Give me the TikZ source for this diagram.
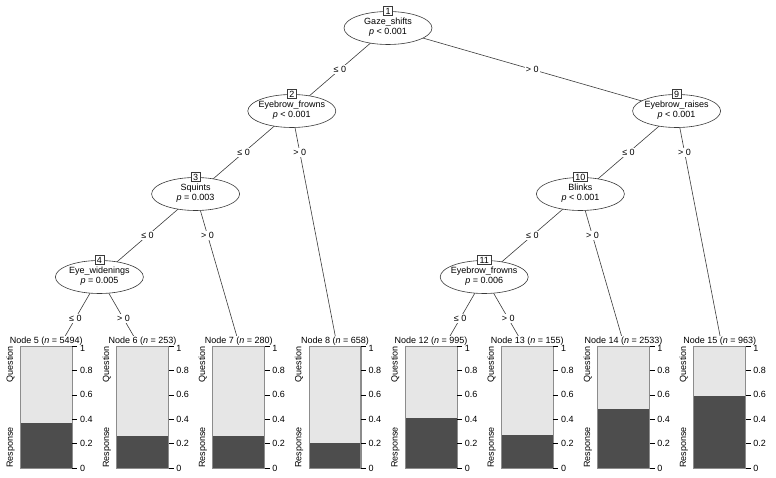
\documentclass[tikz,border=0pt]{standalone}
\usepackage{fontspec}
\setmainfont{Liberation Sans}
\usetikzlibrary{shapes.geometric}
\definecolor{lightbar}{HTML}{E6E6E6}
\definecolor{darkbar}{HTML}{4D4D4D}
\definecolor{framegray}{HTML}{8C8C8C}
\definecolor{linegray}{HTML}{3A3A3A}
\begin{document}
\begin{tikzpicture}[x=1pt,y=-1pt,
  edge/.style={draw=linegray, line width=0.6pt},
  ell/.style={draw=linegray, fill=white, ellipse, minimum width=88pt, minimum height=33pt, inner sep=0pt, line width=0.6pt},
  ntext/.style={align=center, font=\fontsize{9}{10.6}\selectfont, inner sep=0pt},
  numbox/.style={draw=linegray, fill=white, font=\fontsize{9}{10}\selectfont, inner xsep=2pt, inner ysep=1pt, minimum height=9pt, line width=0.5pt},
  elab/.style={fill=white, font=\fontsize{9}{10}\selectfont, inner sep=1pt},
  tlab/.style={fill=white, font=\fontsize{9}{10}\selectfont, inner sep=0.5pt},
  ylab/.style={font=\fontsize{9}{10}\selectfont, inner sep=0pt, rotate=90},
  tick/.style={draw=black, line width=0.5pt},
  ticklab/.style={font=\fontsize{9}{10}\selectfont, inner sep=0pt, anchor=west},
]
\useasboundingbox (0,0) rectangle (776,478);
% inner node centres
\coordinate (c1) at (388,28);
\coordinate (c2) at (291.8,111);
\coordinate (c3) at (195.6,194);
\coordinate (c4) at (99.4,277);
\coordinate (c9) at (676.6,111);
\coordinate (c10) at (580.4,194);
\coordinate (c11) at (484.2,277);
% terminal tops
\coordinate (t5) at (51.3,360);
\coordinate (t6) at (147.5,360);
\coordinate (t7) at (243.7,360);
\coordinate (t8) at (339.9,360);
\coordinate (t12) at (436.1,360);
\coordinate (t13) at (532.3,360);
\coordinate (t14) at (628.5,360);
\coordinate (t15) at (724.7,360);
% edges
\draw[edge] (c1) -- (c2) node[elab,pos=0.5] {≤ 0};
\draw[edge] (c1) -- (c9) node[elab,pos=0.5] {> 0};
\draw[edge] (c2) -- (c3) node[elab,pos=0.5] {≤ 0};
\draw[edge] (c2) -- (t8) node[elab,pos=0.1667] {> 0};
\draw[edge] (c3) -- (c4) node[elab,pos=0.5] {≤ 0};
\draw[edge] (c3) -- (t7) node[elab,pos=0.25] {> 0};
\draw[edge] (c4) -- (t5) node[elab,pos=0.5] {≤ 0};
\draw[edge] (c4) -- (t6) node[elab,pos=0.5] {> 0};
\draw[edge] (c9) -- (c10) node[elab,pos=0.5] {≤ 0};
\draw[edge] (c9) -- (t15) node[elab,pos=0.1667] {> 0};
\draw[edge] (c10) -- (c11) node[elab,pos=0.5] {≤ 0};
\draw[edge] (c10) -- (t14) node[elab,pos=0.25] {> 0};
\draw[edge] (c11) -- (t12) node[elab,pos=0.5] {≤ 0};
\draw[edge] (c11) -- (t13) node[elab,pos=0.5] {> 0};
% inner nodes
\foreach \k/\var/\pv in {1/Gaze\_shifts/< 0.001, 2/Eyebrow\_frowns/< 0.001, 3/Squints/= 0.003, 4/Eye\_widenings/= 0.005, 9/Eyebrow\_raises/< 0.001, 10/Blinks/< 0.001, 11/Eyebrow\_frowns/= 0.006}{
  \node[ell] (n\k) at (c\k) {};
  \node[ntext] (n\k t) at ([yshift=1pt]c\k) {\var\\\textit{p} \pv};
  \node[numbox] (n\k b) at (n\k.north) {\k};
}
% terminal panels
\foreach \k/\u/\nn/\p in {5/0.5/5494/0.37, 6/1.5/253/0.262, 7/2.5/280/0.262, 8/3.5/658/0.202, 12/4.5/995/0.412, 13/5.5/155/0.268, 14/6.5/2533/0.486, 15/7.5/963/0.59}{
  \pgfmathsetmacro\tx{3.2+\u*96.2}
  \pgfmathsetmacro\bl{\tx-31}
  \pgfmathsetmacro\br{\tx+21}
  \pgfmathsetmacro\dt{468-122*\p}
  \node[tlab] (lab\k) at (\tx-5,341) {Node \k\ (\textit{n} = \nn)};
  \fill[lightbar] (\bl,346) rectangle (\br,468);
  \fill[darkbar] (\bl,\dt) rectangle (\br,468);
  \draw[framegray, line width=0.5pt] (\bl,346) rectangle (\br,468);
  \draw[framegray, line width=1pt] (\br,346) -- (\br,468);
  \foreach \v/\lab in {0/0, 0.2/0.2, 0.4/0.4, 0.6/0.6, 0.8/0.8}{
    \draw[tick] (\br,468-122*\v) -- ++(5,0) node[ticklab, xshift=2.5pt] {\lab};
  }
  \draw[tick] (\br,346) -- ++(5,0) node[ticklab, xshift=2.5pt, yshift=-2pt] {1};
  \node[ylab, anchor=base east] (q\k) at (\bl-7.5,346) {Question};
  \node[ylab, anchor=base west] (r\k) at (\bl-7.5,468) {Response};
}
\end{tikzpicture}
\end{document}
